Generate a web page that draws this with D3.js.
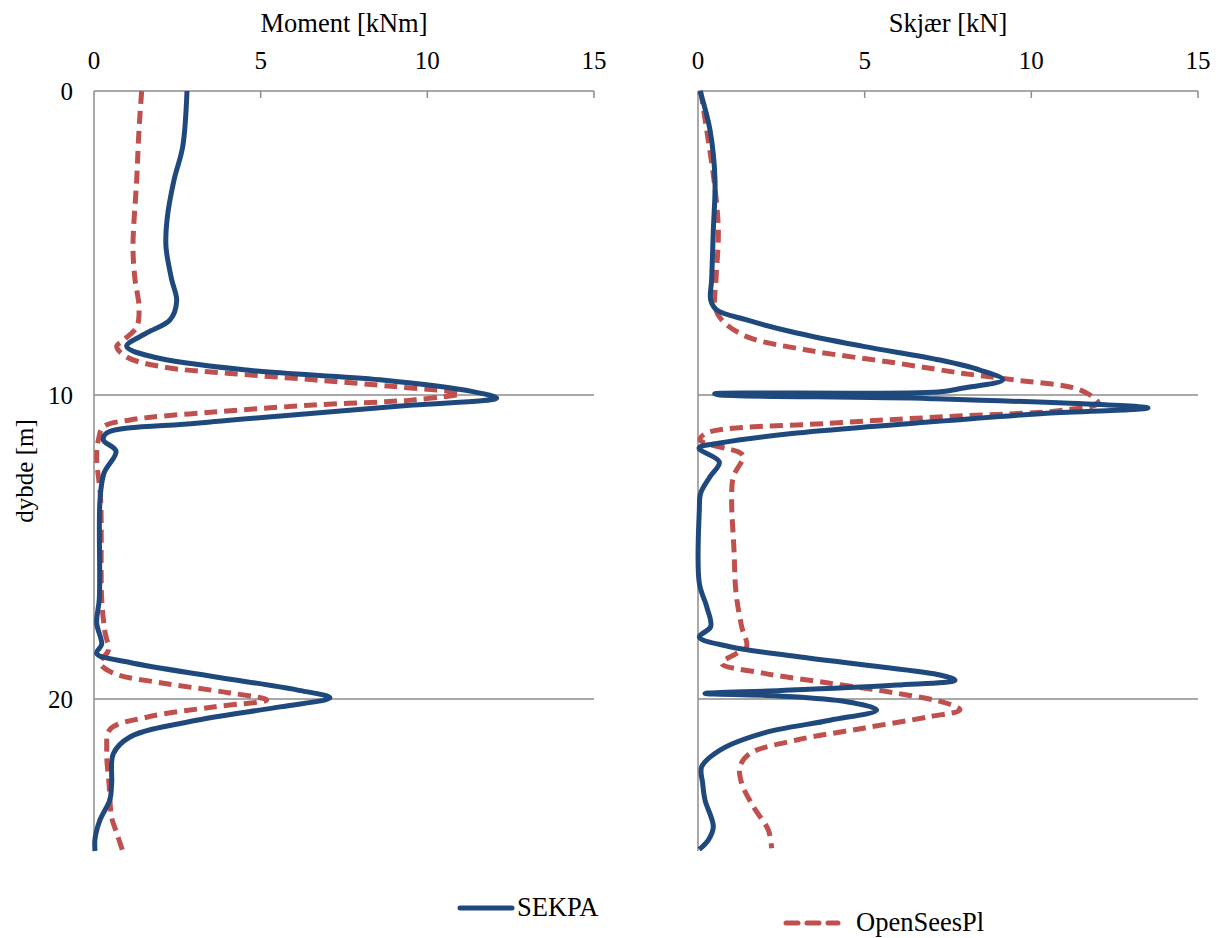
<!DOCTYPE html>
<html>
<head>
<meta charset="utf-8">
<script src="https://cdn.jsdelivr.net/npm/d3@7"></script>
<style>
  html, body { margin: 0; padding: 0; background: #fff; }
  svg { display: block; }
  text { font-family: "Liberation Serif", "Times New Roman", serif; fill: #000; }
</style>
</head>
<body>
<svg id="chart" width="1219" height="938"></svg>
<script>
// Depth profiles along the pile: [depth (m), value]
const momentSekpa = [
  [0, 2.79], [1.84, 2.66], [2.93, 2.4], [4.24, 2.19], [5.13, 2.16], [6.2, 2.33],
  [6.9, 2.48], [7.53, 2.28], [7.96, 1.58], [8.4, 0.98], [8.75, 1.78], [9.18, 4.58],
  [9.5, 8.58], [9.89, 11.37], [10.1, 12.08], [10.33, 9.57], [10.6, 6.58], [10.93, 3.08],
  [11.25, 0.38], [11.48, 0.28], [11.85, 0.66], [12.57, 0.3], [13.45, 0.18], [16.7, 0.16],
  [17.5, 0.08], [18.2, 0.23], [18.5, 0.08], [18.8, 1.08], [19.26, 3.57], [19.7, 6.08],
  [19.96, 7.08], [20.26, 5.58], [20.7, 3.08], [21.25, 1.08], [21.8, 0.58], [22.77, 0.53],
  [23.3, 0.48], [23.98, 0.18], [24.6, 0.03], [25, 0.03]
];
const momentOpenSees = [
  [0, 1.43], [1.28, 1.35], [2.93, 1.28], [5.13, 1.17], [6.2, 1.23], [7.1, 1.35],
  [7.76, 1.28], [8.2, 0.88], [8.4, 0.68], [8.75, 0.98], [9.08, 2.08], [9.29, 4.08],
  [9.5, 6.58], [9.73, 9.08], [9.95, 10.98], [10.16, 9.58], [10.33, 6.58], [10.56, 3.58],
  [10.82, 1.08], [11.05, 0.28], [11.48, 0.13], [12.04, 0.08], [13.45, 0.2], [16.7, 0.23],
  [17.8, 0.33], [18.4, 0.43], [18.8, 0.18], [19.15, 0.58], [19.48, 2.08], [19.8, 4.08],
  [20.03, 5.18], [20.26, 3.58], [20.6, 1.58], [21.0, 0.48], [21.7, 0.38], [22.77, 0.45],
  [23.9, 0.53], [24.4, 0.68], [25, 0.86]
];
const shearSekpa = [
  [0, 0.06], [1.28, 0.36], [2.93, 0.51], [4.57, 0.46], [6.2, 0.41], [6.87, 0.38],
  [7.2, 0.56], [7.53, 1.46], [7.96, 2.96], [8.4, 4.96], [8.85, 7.26], [9.18, 8.46],
  [9.5, 9.14], [9.77, 7.96], [9.9, 7.2], [9.96, 0.5], [9.99, 0.6], [10.12, 7.0],
  [10.43, 13.5], [10.6, 10.46], [10.93, 6.46], [11.25, 2.96], [11.58, 0.66], [11.75, 0.03],
  [12.2, 0.64], [12.69, 0.36], [13.23, 0.08], [13.78, 0.04], [16.2, 0.04], [16.96, 0.26],
  [17.62, 0.38], [17.96, 0.04], [18.28, 0.96], [18.6, 2.96], [18.94, 5.46], [19.21, 7.26],
  [19.38, 7.71], [19.54, 5.96], [19.72, 2.5], [19.82, 0.21], [19.9, 2.4], [20.09, 4.46],
  [20.36, 5.36], [20.7, 3.96], [21.12, 1.96], [21.68, 0.66], [22.23, 0.11], [22.77, 0.14],
  [23.32, 0.21], [24.2, 0.46], [24.64, 0.31], [24.95, 0.04]
];
const shearOpenSees = [
  [0, 0.08], [1.28, 0.26], [2.93, 0.48], [4.57, 0.61], [6.2, 0.54], [7.1, 0.51],
  [7.53, 0.71], [8.08, 1.46], [8.52, 3.26], [8.95, 5.96], [9.29, 7.96], [9.5, 9.46],
  [9.83, 11.46], [10.26, 12.0], [10.5, 10.96], [10.71, 7.46], [10.93, 3.96], [11.25, 0.26],
  [11.48, 0.06], [11.9, 1.26], [12.03, 1.36], [12.69, 1.06], [13.45, 1.01], [15.1, 1.08],
  [16.5, 1.14], [17.62, 1.31], [18.28, 1.46], [18.5, 1.16], [18.83, 0.71], [19.15, 1.96],
  [19.48, 3.96], [19.81, 5.96], [20.14, 7.46], [20.36, 7.86], [20.58, 6.96], [20.96, 4.96],
  [21.35, 2.96], [21.79, 1.56], [22.23, 1.26], [22.77, 1.31], [23.54, 1.66], [24.31, 2.11],
  [24.91, 2.21]
];

const xTicks = [0, 5, 10, 15];
const depthTicks = [0, 10, 20];
const seriesNames = ["SEKPA", "OpenSeesPl"];

const colors = { SEKPA: "#1F497D", OpenSeesPl: "#C0504D" };
const gridColor = "#8C8C8C";

const svg = d3.select("#chart");
const y = d3.scaleLinear().domain([0, 25]).range([91, 851]);

function drawPanel(left, right, title, sekpa, opensees, showDepthLabels) {
  const x = d3.scaleLinear().domain([0, 15]).range([left, right]);
  const g = svg.append("g");

  // horizontal gridlines
  g.selectAll("line.grid").data(depthTicks.filter(d => d > 0)).enter().append("line")
    .attr("x1", x(0)).attr("x2", x(15))
    .attr("y1", d => y(d)).attr("y2", d => y(d))
    .attr("stroke", gridColor).attr("stroke-width", 1.5);

  // top axis line with inward ticks
  g.append("line").attr("x1", x(0)).attr("x2", x(15)).attr("y1", y(0)).attr("y2", y(0))
    .attr("stroke", gridColor).attr("stroke-width", 1.5);
  g.selectAll("line.tick").data(xTicks.filter(d => d > 0)).enter().append("line")
    .attr("x1", d => x(d)).attr("x2", d => x(d))
    .attr("y1", y(0)).attr("y2", y(0) + 7)
    .attr("stroke", gridColor).attr("stroke-width", 1.5);
  // left axis line
  g.append("line").attr("x1", x(0)).attr("x2", x(0)).attr("y1", y(0)).attr("y2", y(25))
    .attr("stroke", gridColor).attr("stroke-width", 1.5);

  // tick labels
  g.selectAll("text.xt").data(xTicks).enter().append("text")
    .attr("x", d => x(d)).attr("y", 69)
    .attr("text-anchor", "middle").attr("font-size", 25)
    .text(d => d);

  g.append("text").attr("x", (x(0) + x(15)) / 2).attr("y", 32)
    .attr("text-anchor", "middle").attr("font-size", 26.5).text(title);

  if (showDepthLabels) {
    g.selectAll("text.yt").data(depthTicks).enter().append("text")
      .attr("x", 73).attr("y", d => y(d) + 9)
      .attr("text-anchor", "end").attr("font-size", 25)
      .text(d => d);
  }

  const line = d3.line()
    .x(d => x(d[1])).y(d => y(d[0]))
    .curve(d3.curveCatmullRom.alpha(0.5));

  g.append("path").datum(opensees).attr("d", line)
    .attr("fill", "none").attr("stroke", colors.OpenSeesPl)
    .attr("stroke-width", 5).attr("stroke-dasharray", "13,7");
  g.append("path").datum(sekpa).attr("d", line)
    .attr("fill", "none").attr("stroke", colors.SEKPA)
    .attr("stroke-width", 5).attr("stroke-linejoin", "round");
}

drawPanel(94, 594, "Moment [kNm]", momentSekpa, momentOpenSees, true);
drawPanel(698, 1198, "Skjær [kN]", shearSekpa, shearOpenSees, false);

// depth axis title
svg.append("text")
  .attr("transform", "translate(33,471) rotate(-90)")
  .attr("text-anchor", "middle").attr("font-size", 25)
  .text("dybde [m]");

// legend
const legend = [
  { name: seriesNames[0], x: 458, y: 908, dash: null },
  { name: seriesNames[1], x: 784, y: 923, dash: "12,9" }
];
legend.forEach(l => {
  svg.append("line").attr("x1", l.x + 2).attr("x2", l.x + 54)
    .attr("y1", l.y).attr("y2", l.y)
    .attr("stroke", colors[l.name]).attr("stroke-width", 5)
    .attr("stroke-linecap", "round")
    .attr("stroke-dasharray", l.dash);
  svg.append("text").attr("x", l.dash ? l.x + 72 : l.x + 59).attr("y", l.y + 8)
    .attr("font-size", 26.5).text(l.name);
});
</script>
</body>
</html>
